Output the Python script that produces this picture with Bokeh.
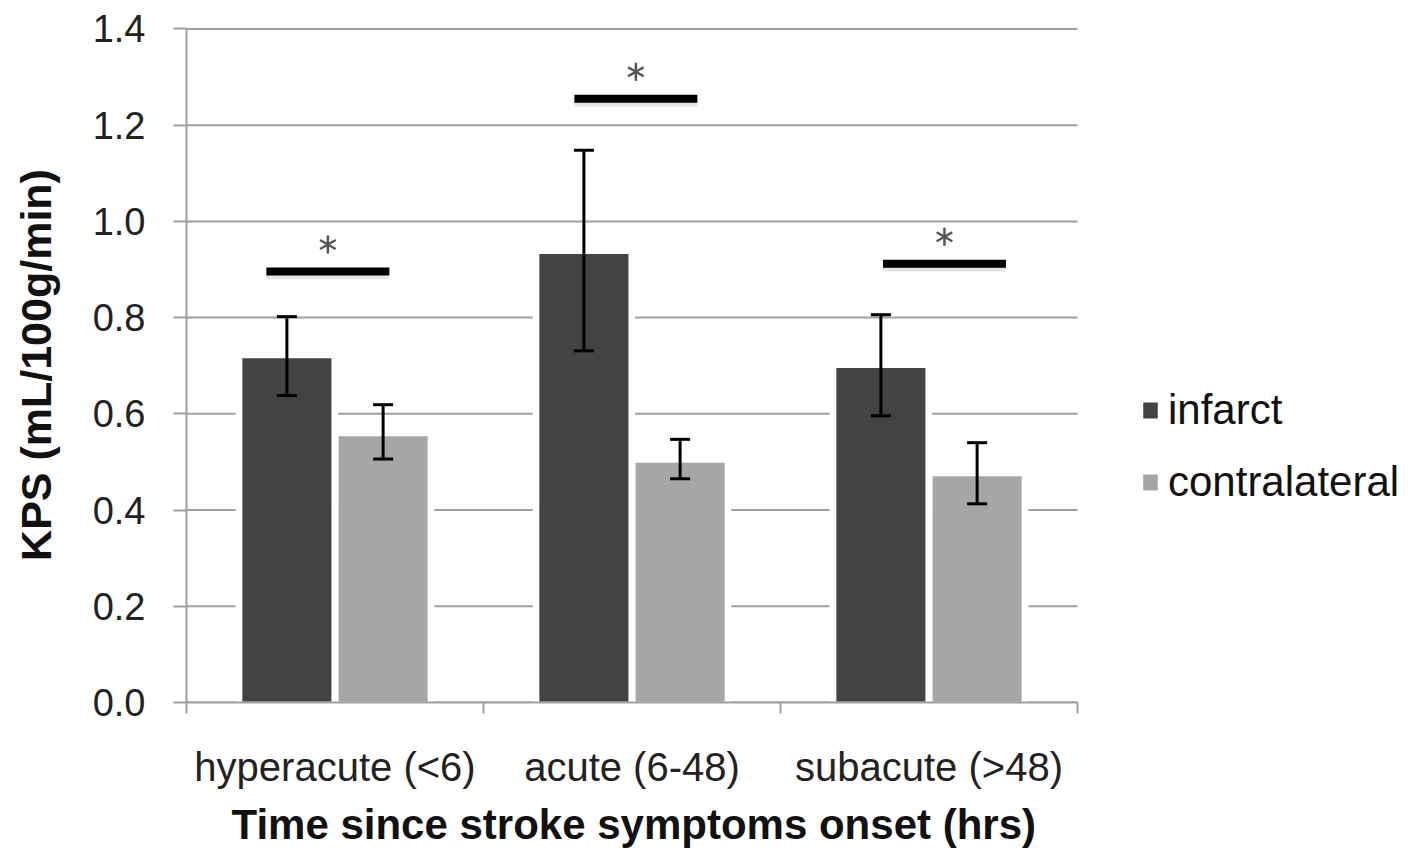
import math
from bokeh.plotting import figure
from bokeh.models import (Range1d, FixedTicker, Whisker, TeeHead, ColumnDataSource,
                          Legend, LegendItem, NumeralTickFormatter, Title)
from bokeh.embed import file_html
from bokeh.resources import INLINE

categories = ["hyperacute (<6)", "acute (6-48)", "subacute (>48)"]
series = ["infarct", "contralateral"]
infarct = [0.717, 0.934, 0.697]
infarct_lo = [0.638, 0.731, 0.596]
infarct_hi = [0.802, 1.148, 0.806]
contra = [0.555, 0.500, 0.472]
contra_lo = [0.506, 0.465, 0.413]
contra_hi = [0.619, 0.547, 0.540]
sig_y = [0.896, 1.255, 0.912]
yticks = [0.0, 0.2, 0.4, 0.6, 0.8, 1.0, 1.2, 1.4]
x_title = "Time since stroke symptoms onset (hrs)"
y_title = "KPS (mL/100g/min)"

colors = {"infarct": "#434343", "contralateral": "#a6a6a6"}
GRID = "#a0a0a0"
FONT = "Liberation Sans"

n = len(categories)
centers = [i + 0.5 for i in range(n)]
off = 0.162
bw = 0.305

CAT_PX = 891          # pixel width of the category area
FRAME_W = 1219        # frame extends to the right to host the legend
x_end = n * FRAME_W / CAT_PX

p = figure(frame_width=FRAME_W, frame_height=675, output_backend="svg", toolbar_location=None,
           x_range=Range1d(0, x_end), y_range=Range1d(0, 1.403),
           min_border_left=186, min_border_right=0, min_border_top=27, min_border_bottom=159)
p.outline_line_color = None
p.background_fill_color = "white"
p.border_fill_color = "white"
p.xgrid.grid_line_color = None
p.ygrid.grid_line_color = None

# gridlines limited to the category area
gsrc = ColumnDataSource(dict(x0=[0] * len(yticks), x1=[n] * len(yticks), y=yticks))
p.segment(x0="x0", y0="y", x1="x1", y1="y", source=gsrc, line_color=GRID, line_width=2)

# y axis
p.yaxis.ticker = FixedTicker(ticks=yticks)
p.yaxis.formatter = NumeralTickFormatter(format="0.0")
p.yaxis.bounds = (0, 1.4)
p.yaxis.axis_line_color = GRID
p.yaxis.axis_line_width = 2
p.yaxis.major_tick_line_color = GRID
p.yaxis.major_tick_line_width = 2
p.yaxis.major_tick_out = 13
p.yaxis.major_tick_in = 0
p.yaxis.minor_tick_line_color = None
p.yaxis.major_label_text_font = FONT
p.yaxis.major_label_text_font_size = "38px"
p.yaxis.major_label_text_color = "#222222"
p.yaxis.major_label_standoff = 28
p.yaxis.axis_label = y_title
p.yaxis.axis_label_text_font = FONT
p.yaxis.axis_label_text_font_style = "bold"
p.yaxis.axis_label_text_font_size = "43px"
p.yaxis.axis_label_text_color = "#111111"
p.yaxis.axis_label_standoff = 30

# x axis
p.xaxis.ticker = FixedTicker(ticks=centers, minor_ticks=[float(i) for i in range(n + 1)])
p.xaxis.major_label_overrides = {c: lab for c, lab in zip(centers, categories)}
p.xaxis.bounds = (0, n)
p.xaxis.axis_line_color = GRID
p.xaxis.axis_line_width = 2
p.xaxis.major_tick_line_color = None
p.xaxis.major_tick_out = 0
p.xaxis.minor_tick_line_color = GRID
p.xaxis.minor_tick_line_width = 2
p.xaxis.minor_tick_out = 11
p.xaxis.minor_tick_in = 0
p.xaxis.major_label_text_font = FONT
p.xaxis.major_label_text_font_size = "40px"
p.xaxis.major_label_text_color = "#222222"
p.xaxis.major_label_standoff = 31

# x axis title as a Title so it can be centred on the category area
xt = Title(text=x_title, align="left", offset=45, standoff=14,
           text_font=FONT, text_font_style="bold", text_font_size="42px", text_color="#111111")
p.add_layout(xt, "below")

sources = {}
for name, vals, lo, hi, sign in [("infarct", infarct, infarct_lo, infarct_hi, -1),
                                  ("contralateral", contra, contra_lo, contra_hi, 1)]:
    xs = [c + sign * off for c in centers]
    src = ColumnDataSource(dict(x=xs, top=vals, lo=lo, hi=hi,
                                pad_top=[v + 0.012 for v in vals]))
    # white halo around bars (interrupts gridlines)
    p.vbar(x="x", top="pad_top", width=bw + 0.04, bottom=0, source=src,
           fill_color="white", line_color=None)
    sources[name] = src

bar_r = {}
for name in series:
    src = sources[name]
    bar_r[name] = p.vbar(x="x", top="top", width=bw, bottom=0, source=src,
                         fill_color=colors[name], line_color="white", line_width=1.5)

for name in series:
    w = Whisker(base="x", lower="lo", upper="hi", source=sources[name], level="annotation",
                line_color="black", line_width=3,
                upper_head=TeeHead(size=20, line_color="black", line_width=3),
                lower_head=TeeHead(size=20, line_color="black", line_width=3))
    p.add_layout(w)

# significance bars with asterisks
sig_off = [-0.024, 0.013, 0.052]
half = 0.207
sx = [c + o for c, o in zip(centers, sig_off)]
ssrc = ColumnDataSource(dict(x0=[x - half for x in sx], x1=[x + half for x in sx], y=sig_y, xc=sx,
                             ysh=[y - 0.010 for y in sig_y], ystar=[y + 0.056 for y in sig_y]))
p.segment(x0="x0", y0="ysh", x1="x1", y1="ysh", source=ssrc, line_color="#e4e4e4",
          line_width=6)
p.segment(x0="x0", y0="y", x1="x1", y1="y", source=ssrc, line_color="black",
          line_width=8, line_cap="butt")
for ang in (math.pi / 2, math.pi / 6, -math.pi / 6):
    p.scatter(x="xc", y="ystar", source=ssrc, marker="dash", size=18, angle=ang,
              line_color="#555555", line_width=2.5)

legend = Legend(items=[LegendItem(label=s, renderers=[bar_r[s]]) for s in series],
                location=(954, 196), orientation="vertical",
                label_text_font=FONT, label_text_font_size="42px", label_text_color="#111111",
                glyph_width=20, glyph_height=22, label_standoff=8, spacing=24,
                padding=0, margin=0, border_line_color=None, background_fill_alpha=0)
p.add_layout(legend, "center")

open("out.html", "w").write(file_html(p, INLINE))
